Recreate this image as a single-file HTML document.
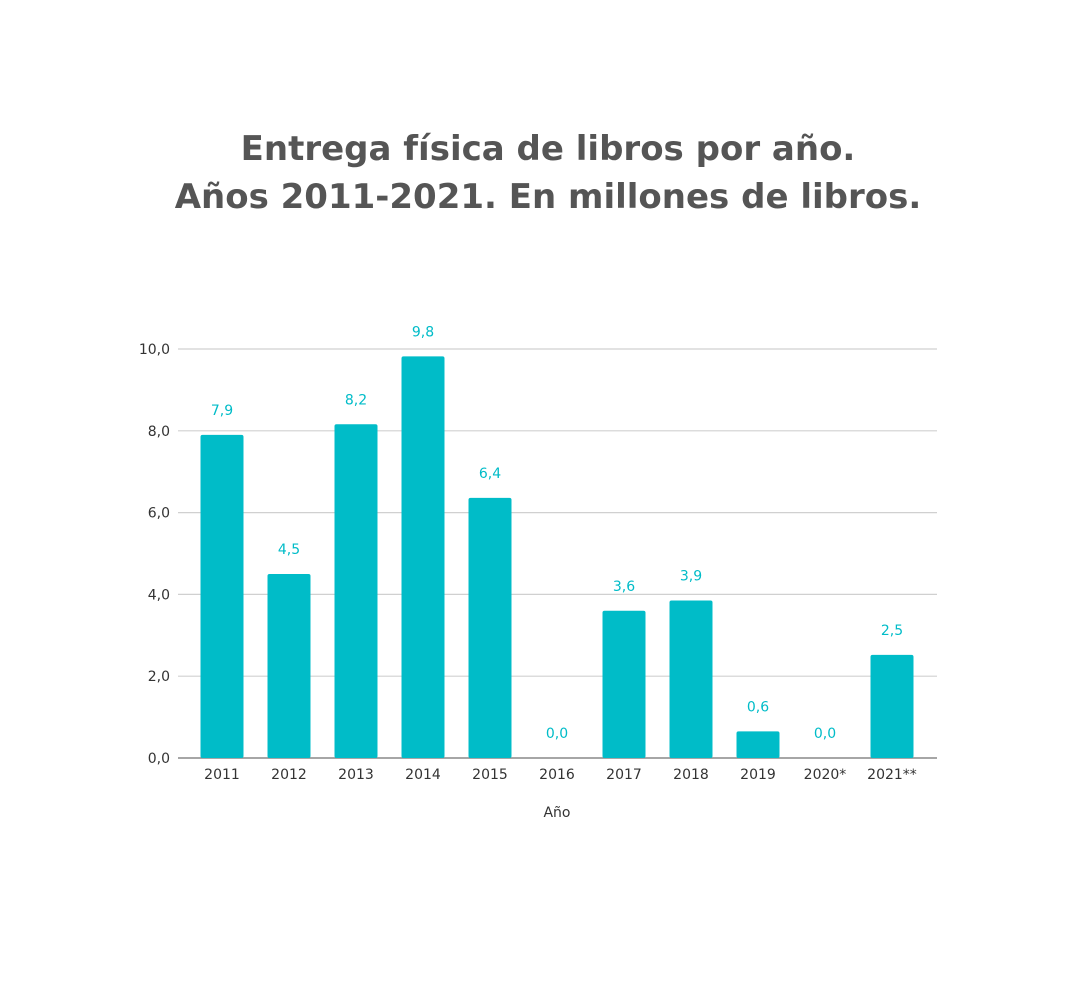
<!DOCTYPE html>
<html><head><meta charset="utf-8"><style>
body{margin:0;background:#fff;width:1080px;height:994px;overflow:hidden}
svg{display:block}
</style></head><body>
<svg id="chart" width="1080" height="994" xmlns="http://www.w3.org/2000/svg">
<text x="548" y="160" text-anchor="middle" font-family="'DejaVu Sans','Liberation Sans',sans-serif" font-weight="bold" font-size="34" fill="#555">Entrega física de libros por año.</text>
<text x="548" y="208" text-anchor="middle" font-family="'DejaVu Sans','Liberation Sans',sans-serif" font-weight="bold" font-size="34" fill="#555">Años 2011-2021. En millones de libros.</text>
<g id="grid"></g><g id="bars"></g><g id="labels"></g>
<text x="557" y="817" text-anchor="middle" font-family="'DejaVu Sans','Liberation Sans',sans-serif" font-size="14" fill="#333">Año</text>
</svg>
<script>
const categories=["2011","2012","2013","2014","2015","2016","2017","2018","2019","2020*","2021**"];
const values=[7.9,4.5,8.16,9.82,6.36,0,3.6,3.85,0.65,0,2.52];
const valueLabels=["7,9","4,5","8,2","9,8","6,4","0,0","3,6","3,9","0,6","0,0","2,5"];
const yTicks=[0,2,4,6,8,10];
const yTickLabels=["0,0","2,0","4,0","6,0","8,0","10,0"];
const NS="http://www.w3.org/2000/svg";
const x0=178,x1=937,y0=758,y1=349,yMax=10;
const y=v=>y0-(v/yMax)*(y0-y1);
const step=67;
const xc=i=>222+step*i;
const F="'DejaVu Sans','Liberation Sans',sans-serif";
function mk(t,a,p){const e=document.createElementNS(NS,t);for(const k in a)e.setAttribute(k,a[k]);p.appendChild(e);return e;}
const grid=document.getElementById('grid'),bars=document.getElementById('bars'),labels=document.getElementById('labels');
yTicks.forEach((t,i)=>{
const l=mk('line',{x1:x0,x2:x1,y1:y(t),y2:y(t),stroke:t===0?'#888':'#d0d0d0','stroke-width':t===0?1.5:1.2},grid);


const tx=mk('text',{x:170,y:y(t)+5,'text-anchor':'end','font-family':F,'font-size':14,fill:'#333'},grid);
tx.textContent=yTickLabels[i];


});
categories.forEach((c,i)=>{
const h=y0-y(values[i]);
if(h>0){const r=mk('rect',{x:xc(i)-21.5,y:y(values[i]),width:43,height:h,rx:2,fill:'#00BCC8'},bars);

}
const v=mk('text',{x:xc(i),y:y(values[i])-20,'text-anchor':'middle','font-family':F,'font-size':14,fill:'#00BCC8'},labels);
v.textContent=valueLabels[i];


const t=mk('text',{x:xc(i),y:779,'text-anchor':'middle','font-family':F,'font-size':14,fill:'#333'},labels);
t.textContent=c;


});
</script>
</body></html>
